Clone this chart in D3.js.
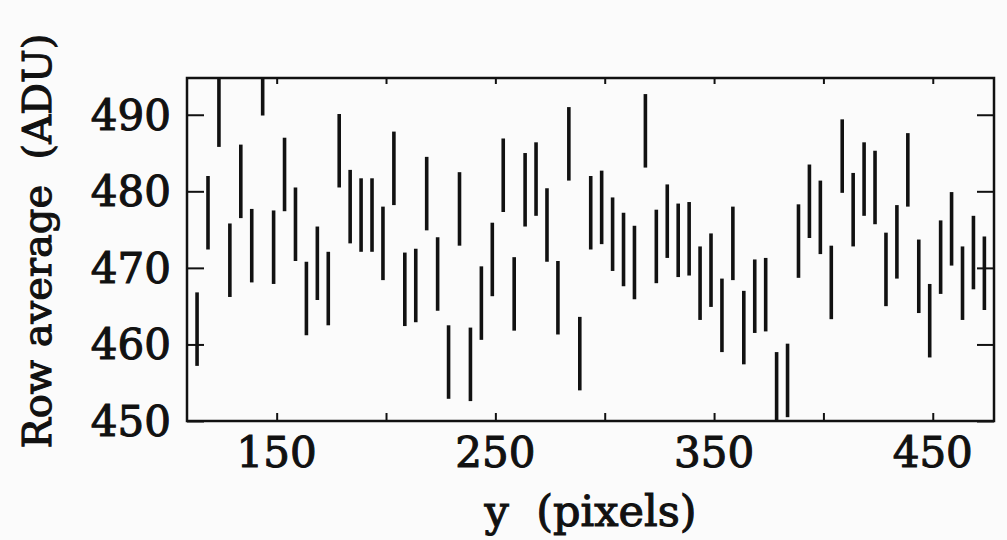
<!DOCTYPE html>
<html>
<head>
<meta charset="utf-8">
<script src="https://cdn.jsdelivr.net/npm/d3@7"></script>
<style>
body{margin:0;background:#fbfbfb;}
svg{display:block;}
text{font-family:"DejaVu Serif",serif;fill:#111;stroke:#111;stroke-width:1.1;}
</style>
</head>
<body>
<svg width="1007" height="540"></svg>
<script>
// row position (pixels) of each bin
var rows = [113.6,118.6,123.6,128.6,133.6,138.6,143.6,148.6,153.6,158.6,
163.6,168.6,173.6,178.6,183.6,188.6,193.6,198.6,203.6,208.6,
213.6,218.6,223.6,228.6,233.6,238.6,243.6,248.6,253.6,258.6,
263.6,268.6,273.6,278.6,283.6,288.6,293.6,298.6,303.6,308.6,
313.6,318.6,323.6,328.6,333.6,338.6,343.6,348.6,353.6,358.6,
363.6,368.6,373.6,378.6,383.6,388.6,393.6,398.6,403.6,408.6,
413.6,418.6,423.6,428.6,433.6,438.6,443.6,448.6,453.6,458.6,
463.6,468.6,473.6];
// row average (ADU)
var avg = [462.0,477.2,490.6,471.0,481.3,472.9,494.7,472.7,482.2,475.7,
466.0,470.6,467.3,485.3,478.0,476.9,476.9,473.2,483.0,467.2,
467.7,479.7,469.2,457.7,477.7,457.4,465.4,471.1,482.1,466.6,
480.2,481.6,475.6,466.1,486.2,458.8,477.2,477.9,474.4,472.4,
470.7,487.9,472.8,476.1,473.6,473.8,468.0,469.7,463.8,473.2,
462.2,466.3,466.5,454.2,455.3,473.5,478.7,476.6,468.1,484.6,
477.6,481.6,480.5,469.8,473.4,482.8,468.9,463.1,471.4,475.1,
468.0,472.0,469.3];
var err = 4.8;

var xTicks = [150,200,250,300,350,400,450];
var xLabels = [150,250,350,450];
var yTicks = [450,460,470,480,490];

var svg = d3.select('svg');
var L = 187, R = 994, T = 78, B = 421;

var x = d3.scaleLinear().domain([109,478]).range([L,R]);
var y = d3.scaleLinear().domain([450,494.8]).range([B,T]);

svg.append('clipPath').attr('id','box').append('rect')
  .attr('x',L).attr('y',T).attr('width',R-L).attr('height',B-T);

// error bars
svg.append('g').attr('clip-path','url(#box)')
  .selectAll('line').data(rows).enter().append('line')
  .attr('x1',function(d){return x(d);})
  .attr('x2',function(d){return x(d);})
  .attr('y1',function(d,i){return y(avg[i]+err);})
  .attr('y2',function(d,i){return y(avg[i]-err);})
  .attr('stroke','#111').attr('stroke-width',3.6);

// axes, ticks drawn inside the frame
svg.append('g').attr('transform','translate(0,'+B+')')
  .call(d3.axisBottom(x).tickValues(xTicks).tickSize(-8).tickFormat(''));
svg.append('g').attr('transform','translate(0,'+T+')')
  .call(d3.axisTop(x).tickValues(xTicks).tickSize(-6).tickFormat(''));
svg.append('g').attr('transform','translate('+L+',0)')
  .call(d3.axisLeft(y).tickValues(yTicks).tickSize(-17).tickFormat(''));
svg.append('g').attr('transform','translate('+R+',0)')
  .call(d3.axisRight(y).tickValues(yTicks).tickSize(-17).tickFormat(''));
svg.selectAll('.domain').remove();
svg.selectAll('.tick line').attr('stroke','#111').attr('stroke-width',2);

svg.append('rect').attr('x',L).attr('y',T).attr('width',R-L).attr('height',B-T)
  .attr('fill','none').attr('stroke','#111').attr('stroke-width',2.5);

// tick labels
svg.selectAll('.xl').data(xLabels).enter().append('text')
  .attr('x',function(d){return x(d);}).attr('y',467)
  .attr('text-anchor','middle').attr('font-size',42)
  .text(function(d){return d;});
svg.selectAll('.yl').data(yTicks).enter().append('text')
  .attr('x',171).attr('y',function(d){return y(d)+15;})
  .attr('text-anchor','end').attr('font-size',42)
  .text(function(d){return d;});

// titles
svg.append('text').attr('x',(L+R)/2).attr('y',526)
  .attr('text-anchor','middle').attr('font-size',43)
  .attr('xml:space','preserve').text('y  (pixels)');
svg.append('text').attr('transform','translate(51,241) rotate(-90)')
  .attr('text-anchor','middle').attr('font-size',40)
  .attr('xml:space','preserve').text('Row average  (ADU)');
</script>
</body>
</html>
